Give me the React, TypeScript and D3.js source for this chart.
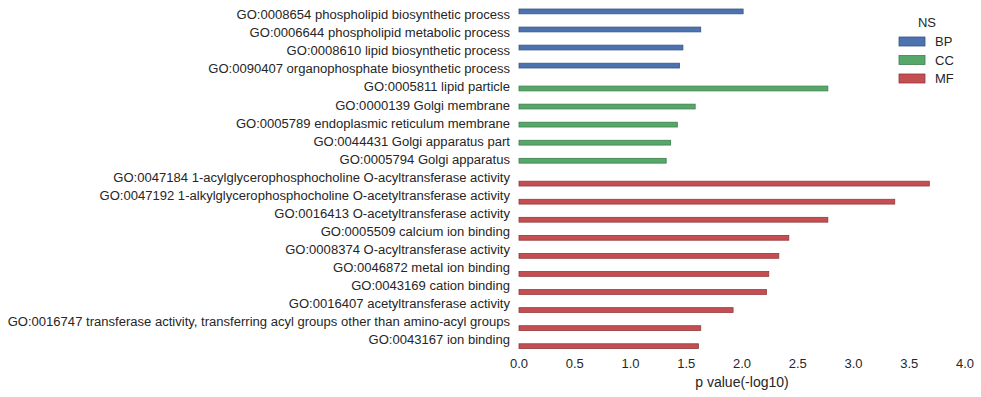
import React, { useEffect, useRef } from 'react';
import * as d3 from 'd3';

const terms = [
  'GO:0008654 phospholipid biosynthetic process',
  'GO:0006644 phospholipid metabolic process',
  'GO:0008610 lipid biosynthetic process',
  'GO:0090407 organophosphate biosynthetic process',
  'GO:0005811 lipid particle',
  'GO:0000139 Golgi membrane',
  'GO:0005789 endoplasmic reticulum membrane',
  'GO:0044431 Golgi apparatus part',
  'GO:0005794 Golgi apparatus',
  'GO:0047184 1-acylglycerophosphocholine O-acyltransferase activity',
  'GO:0047192 1-alkylglycerophosphocholine O-acetyltransferase activity',
  'GO:0016413 O-acetyltransferase activity',
  'GO:0005509 calcium ion binding',
  'GO:0008374 O-acyltransferase activity',
  'GO:0046872 metal ion binding',
  'GO:0043169 cation binding',
  'GO:0016407 acetyltransferase activity',
  'GO:0016747 transferase activity, transferring acyl groups other than amino-acyl groups',
  'GO:0043167 ion binding',
];
const namespaces = ['BP', 'BP', 'BP', 'BP', 'CC', 'CC', 'CC', 'CC', 'CC',
  'MF', 'MF', 'MF', 'MF', 'MF', 'MF', 'MF', 'MF', 'MF', 'MF'];
const pvalues = [2.01, 1.63, 1.47, 1.44, 2.77, 1.58, 1.42, 1.36, 1.32,
  3.68, 3.37, 2.77, 2.42, 2.33, 2.24, 2.22, 1.92, 1.63, 1.61];
const hueOrder = ['BP', 'CC', 'MF'];
const hueColors = ['#4c72b0', '#55a868', '#c44e52'];
const xTicks = [0, 0.5, 1, 1.5, 2, 2.5, 3, 3.5, 4];

const W = 981;
const H = 397;
const FONT = 'Liberation Sans, Arial, sans-serif';

export default function App() {
  const svgRef = useRef<SVGSVGElement>(null);

  useEffect(() => {
    document.body.style.margin = '0';
    const svg = d3.select(svgRef.current);
    svg.selectAll('*').remove();

    const x = d3.scaleLinear().domain([0, 4]).range([519, 965]);
    const y = d3.scaleBand<string>().domain(terms).range([7.2, 350.4]);
    const hue = d3.scaleBand<string>().domain(hueOrder)
      .range([y.bandwidth() * 0.1, y.bandwidth() * 0.9]);
    const color = d3.scaleOrdinal<string, string>().domain(hueOrder).range(hueColors);

    svg.append('rect').attr('width', W).attr('height', H).attr('fill', '#fff');

    // bars
    const bars = svg.append('g');
    terms.forEach((t, i) => {
      const ns = namespaces[i];
      const c = color(ns);
      bars.append('rect')
        .attr('x', x(0))
        .attr('y', (y(t) as number) + (hue(ns) as number))
        .attr('width', x(pvalues[i]) - x(0))
        .attr('height', hue.bandwidth())
        .attr('fill', c)
        .attr('stroke', d3.color(c)!.darker(0.8).toString())
        .attr('stroke-width', 0.8);
    });

    // category labels
    svg.append('g').selectAll('text').data(terms).join('text')
      .attr('x', 510)
      .attr('y', (d) => (y(d) as number) + y.bandwidth() / 2 - 1.6)
      .attr('dy', '0.35em')
      .attr('text-anchor', 'end')
      .attr('font-family', FONT)
      .attr('font-size', 13.05)
      .attr('fill', '#262626')
      .text((d) => d);

    // x ticks
    svg.append('g').selectAll('text').data(xTicks).join('text')
      .attr('x', (d) => x(d))
      .attr('y', 368)
      .attr('text-anchor', 'middle')
      .attr('font-family', FONT)
      .attr('font-size', 13)
      .attr('fill', '#262626')
      .text((d) => d3.format('.1f')(d));

    svg.append('text')
      .attr('x', x(2))
      .attr('y', 387)
      .attr('text-anchor', 'middle')
      .attr('font-family', FONT)
      .attr('font-size', 14)
      .attr('fill', '#262626')
      .text('p value(-log10)');

    // legend
    const lg = svg.append('g');
    lg.append('text')
      .attr('x', 927).attr('y', 27)
      .attr('text-anchor', 'middle')
      .attr('font-family', FONT).attr('font-size', 13).attr('fill', '#262626')
      .text('NS');
    hueOrder.forEach((h, i) => {
      const yy = 37 + i * 18.5;
      lg.append('rect')
        .attr('x', 899).attr('y', yy).attr('width', 26).attr('height', 9)
        .attr('fill', color(h))
        .attr('stroke', d3.color(color(h))!.darker(0.8).toString())
        .attr('stroke-width', 0.8);
      lg.append('text')
        .attr('x', 935).attr('y', yy + 4.5).attr('dy', '0.35em')
        .attr('font-family', FONT).attr('font-size', 13).attr('fill', '#262626')
        .text(h);
    });
  }, []);

  return <svg ref={svgRef} width={W} height={H} style={{ display: 'block' }} />;
}
